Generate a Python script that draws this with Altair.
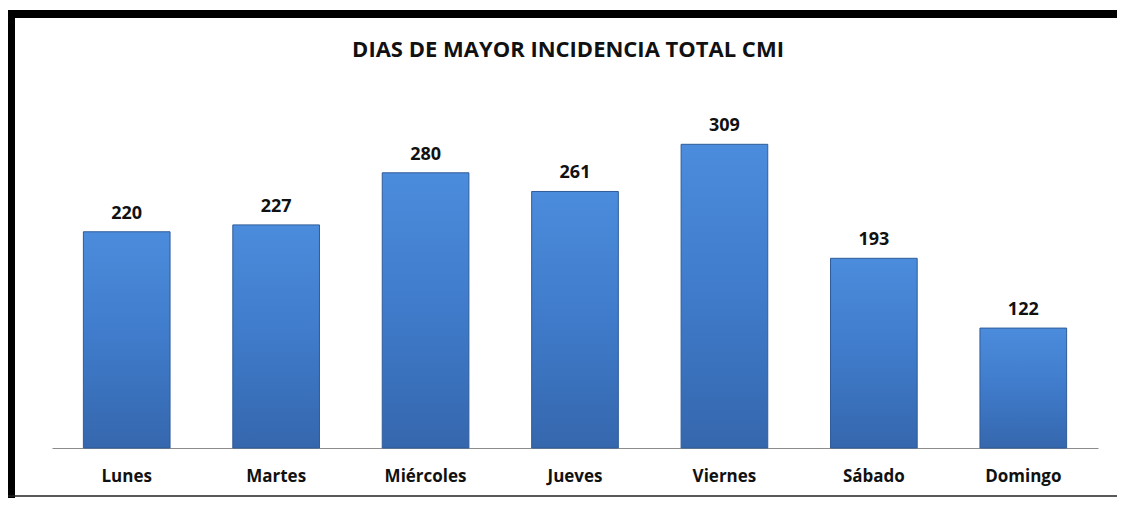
import altair as alt
import pandas as pd

dias = ["Lunes", "Martes", "Miércoles", "Jueves", "Viernes", "Sábado", "Domingo"]
valores = [220, 227, 280, 261, 309, 193, 122]
titulo = "DIAS DE MAYOR INCIDENCIA TOTAL CMI"

df = pd.DataFrame({"dia": dias, "valor": valores})

FONT = "Open Sans"

x_enc = alt.X("dia:N", sort=dias, title=None,
              scale=alt.Scale(paddingInner=0.42, paddingOuter=0.21),
              axis=alt.Axis(labelAngle=0, labelFont=FONT, labelFontSize=17, labelFontWeight="bold",
                            labelColor="#111111", labelPadding=20, ticks=False,
                            domainColor="#8c8c8c", domainWidth=1))
y_enc = alt.Y("valor:Q", title=None, scale=alt.Scale(domain=[0, 350], nice=False),
              axis=None)

grad = alt.LinearGradient(gradient="linear", x1=0, x2=0, y1=0, y2=1,
                          stops=[alt.GradientStop(color="#4c8cdc", offset=0),
                                 alt.GradientStop(color="#3f7bca", offset=0.5),
                                 alt.GradientStop(color="#3567ad", offset=1)])

bars = alt.Chart(df).mark_bar(color=grad, stroke="#2f5c99", strokeWidth=1).encode(x=x_enc, y=y_enc)

labels = alt.Chart(df).mark_text(font=FONT, fontSize=18, fontWeight="bold", color="#111111",
                                 dy=-13, baseline="alphabetic").encode(
    x=alt.X("dia:N", sort=dias), y="valor:Q", text="valor:Q")

frame_df = pd.DataFrame({"k": [0]})
title_mark = alt.Chart(pd.DataFrame({"t": [titulo]})).mark_text(
    font=FONT, fontSize=22, fontWeight="bold", color="#111111", baseline="alphabetic", align="center"
).encode(x=alt.value(516), y=alt.value(-47), text="t:N")

top_border = alt.Chart(frame_df).mark_rule(color="black", strokeWidth=8).encode(
    x=alt.value(-44), x2=alt.value(1080), y=alt.value(-90))
left_border = alt.Chart(frame_df).mark_rule(color="black", strokeWidth=7).encode(
    x=alt.value(-40.5), y=alt.value(-94), y2=alt.value(394))
bottom_border = alt.Chart(frame_df).mark_rule(color="#222222", strokeWidth=1.5).encode(
    x=alt.value(-44), x2=alt.value(1080), y=alt.value(392))

chart = alt.layer(bars, labels, title_mark, top_border, left_border, bottom_border).properties(
    width=1046, height=344,
    autosize=alt.AutoSizeParams(type="none"),
    padding={"left": 44, "top": 96, "right": 19, "bottom": 50},
).configure(background="white").configure_view(strokeWidth=0, stroke="transparent")

chart.save("out.html", embed_options={"renderer": "svg", "actions": False})
